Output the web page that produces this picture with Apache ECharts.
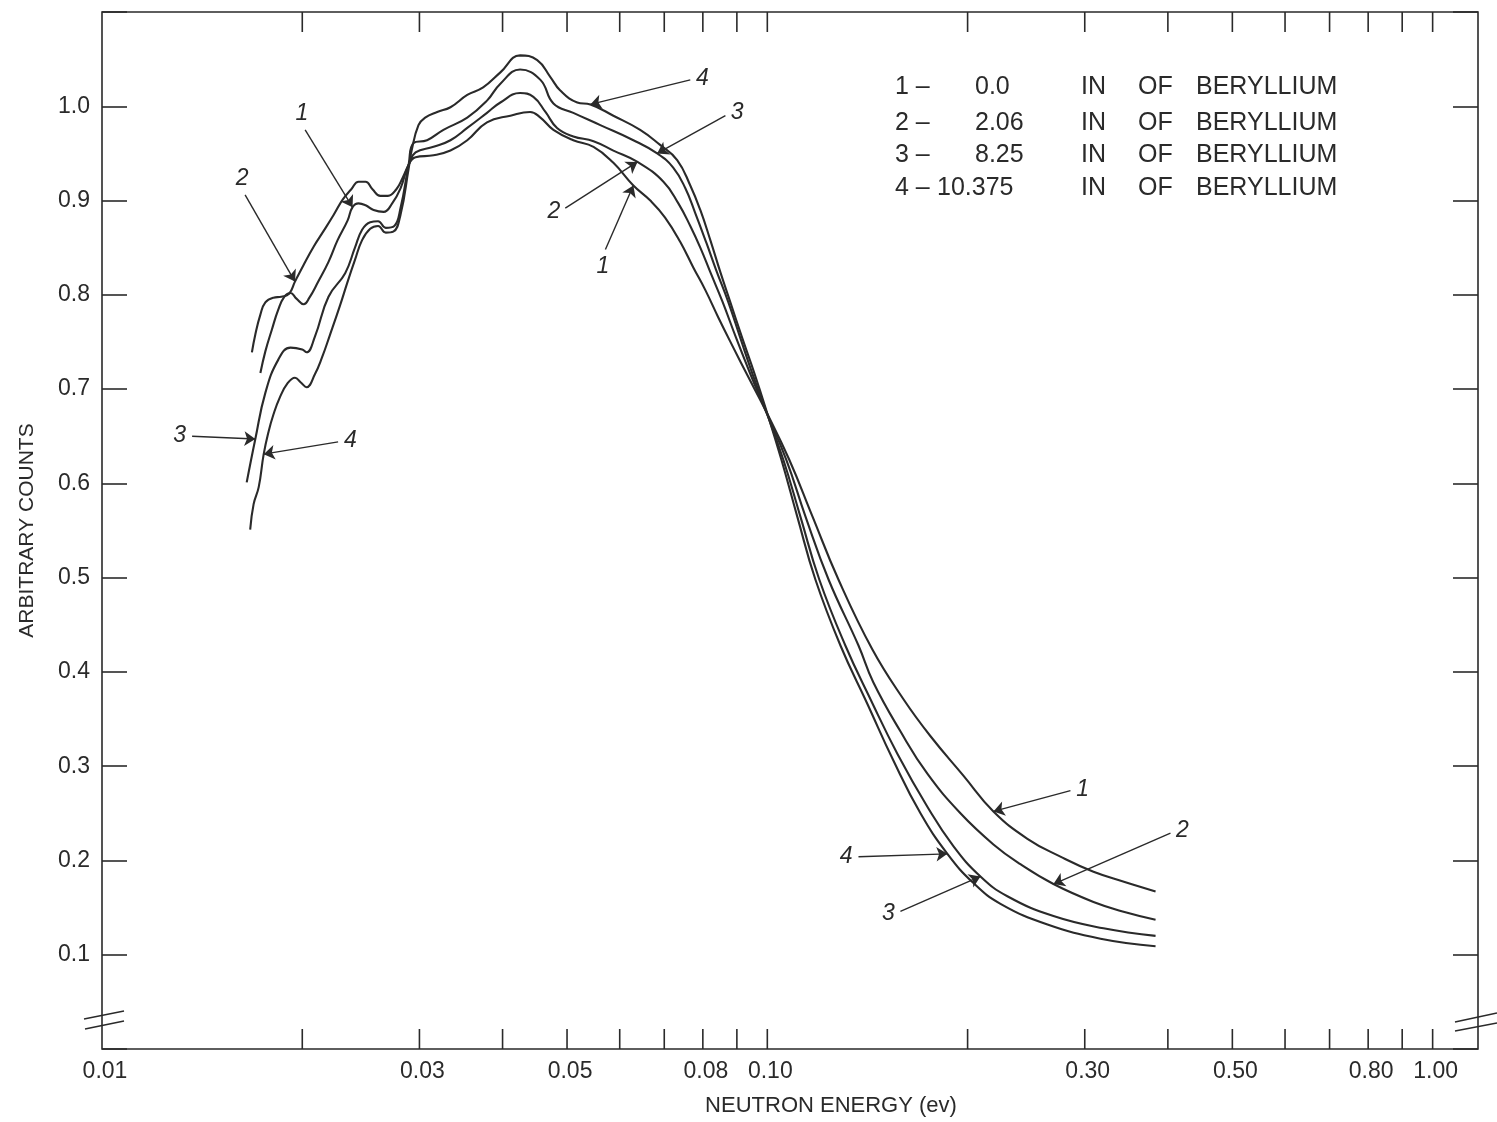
<!DOCTYPE html>
<html>
<head>
<meta charset="utf-8">
<title>Neutron energy spectra through beryllium</title>
<script src="https://cdn.jsdelivr.net/npm/echarts@6/dist/echarts.min.js"></script>
<style>
  html, body { margin: 0; padding: 0; background: #fff; }
  #chart { width: 1497px; height: 1122px; }
</style>
</head>
<body>
<div id="chart"></div>
<script>
// curve 1 - 0.0 in of beryllium
const energy1 = [0.0173, 0.0176, 0.0180, 0.0184, 0.0188, 0.0192, 0.0196, 0.0201, 0.0205, 0.0211,
  0.0219, 0.0226, 0.0234, 0.0238, 0.0243, 0.0249, 0.0256, 0.0265, 0.0273, 0.0281,
  0.0289, 0.0296, 0.0315, 0.0334, 0.0354, 0.0379, 0.0411, 0.0440, 0.0456, 0.0477,
  0.0511, 0.0548, 0.0587, 0.0629, 0.0667, 0.0702, 0.0740, 0.0774, 0.0807, 0.0844,
  0.0889, 0.0936, 0.0993, 0.1079, 0.1169, 0.1279, 0.1438, 0.1602, 0.1758, 0.1971,
  0.2187, 0.2460, 0.2758, 0.3092, 0.3454, 0.3833];
const counts1 = [0.717, 0.740, 0.763, 0.784, 0.798, 0.802, 0.796, 0.790, 0.797, 0.813,
  0.835, 0.858, 0.879, 0.893, 0.897, 0.895, 0.890, 0.888, 0.897, 0.913,
  0.938, 0.946, 0.948, 0.953, 0.964, 0.983, 0.990, 0.994, 0.988, 0.975,
  0.964, 0.957, 0.940, 0.916, 0.900, 0.882, 0.856, 0.829, 0.805, 0.776,
  0.744, 0.713, 0.678, 0.625, 0.565, 0.498, 0.424, 0.371, 0.332, 0.290,
  0.252, 0.223, 0.204, 0.188, 0.177, 0.167];

// curve 2 - 2.06 in
const energy2 = [0.0168, 0.0170, 0.0173, 0.0176, 0.0181, 0.0186, 0.0191, 0.0195, 0.0201, 0.0208,
  0.0215, 0.0223, 0.0230, 0.0237, 0.0243, 0.0249, 0.0255, 0.0262, 0.0269, 0.0277,
  0.0283, 0.0289, 0.0296, 0.0315, 0.0334, 0.0354, 0.0379, 0.0397, 0.0425, 0.0445,
  0.0464, 0.0483, 0.0511, 0.0548, 0.0587, 0.0638, 0.0698, 0.0735, 0.0766, 0.0793,
  0.0821, 0.0856, 0.0898, 0.0943, 0.0993, 0.1068, 0.1141, 0.1236, 0.1371, 0.1443,
  0.1585, 0.1740, 0.1951, 0.2187, 0.2401, 0.2692, 0.3092, 0.3454, 0.3833];
const counts2 = [0.739, 0.758, 0.779, 0.792, 0.797, 0.798, 0.801, 0.814, 0.832, 0.851,
  0.867, 0.885, 0.901, 0.912, 0.920, 0.920, 0.912, 0.905, 0.905, 0.912,
  0.924, 0.938, 0.951, 0.957, 0.964, 0.977, 0.993, 1.004, 1.014, 1.010,
  0.994, 0.977, 0.968, 0.963, 0.953, 0.941, 0.920, 0.897, 0.873, 0.850,
  0.824, 0.793, 0.754, 0.716, 0.678, 0.625, 0.565, 0.498, 0.428, 0.389,
  0.337, 0.292, 0.250, 0.217, 0.196, 0.175, 0.156, 0.145, 0.137];

// curve 3 - 8.25 in
const energy3 = [0.0165, 0.0170, 0.0176, 0.0184, 0.0192, 0.0200, 0.0203, 0.0209, 0.0219, 0.0232,
  0.0240, 0.0246, 0.0253, 0.0260, 0.0267, 0.0275, 0.0281, 0.0289, 0.0294, 0.0308,
  0.0326, 0.0354, 0.0379, 0.0397, 0.0425, 0.0456, 0.0477, 0.0511, 0.0561, 0.0629,
  0.0683, 0.0722, 0.0753, 0.0779, 0.0810, 0.0838, 0.0874, 0.0911, 0.0949, 0.0993,
  0.1057, 0.1121, 0.1197, 0.1310, 0.1429, 0.1569, 0.1740, 0.1905, 0.2091, 0.2295,
  0.2692, 0.3201, 0.3833];
const counts3 = [0.601, 0.647, 0.696, 0.731, 0.744, 0.742, 0.739, 0.756, 0.798, 0.823,
  0.850, 0.869, 0.877, 0.878, 0.871, 0.873, 0.892, 0.938, 0.961, 0.964,
  0.975, 0.988, 1.006, 1.024, 1.039, 1.028, 1.003, 0.993, 0.980, 0.964,
  0.950, 0.935, 0.913, 0.887, 0.855, 0.826, 0.792, 0.754, 0.717, 0.679,
  0.625, 0.565, 0.498, 0.428, 0.371, 0.313, 0.257, 0.215, 0.183, 0.162,
  0.141, 0.128, 0.120];

// curve 4 - 10.375 in
const energy4 = [0.0167, 0.0169, 0.0172, 0.0175, 0.0178, 0.0181, 0.0185, 0.0190, 0.0195, 0.0199,
  0.0203, 0.0209, 0.0214, 0.0220, 0.0228, 0.0234, 0.0240, 0.0246, 0.0253, 0.0260,
  0.0267, 0.0274, 0.0281, 0.0289, 0.0292, 0.0299, 0.0306, 0.0319, 0.0334, 0.0354,
  0.0374, 0.0397, 0.0425, 0.0451, 0.0472, 0.0488, 0.0518, 0.0542, 0.0587, 0.0644,
  0.0690, 0.0732, 0.0766, 0.0793, 0.0821, 0.0850, 0.0880, 0.0917, 0.0956, 0.0993,
  0.1050, 0.1109, 0.1181, 0.1288, 0.1414, 0.1547, 0.1699, 0.1865, 0.2041, 0.2241,
  0.2637, 0.3168, 0.3833];
const counts4 = [0.551, 0.578, 0.596, 0.631, 0.655, 0.673, 0.691, 0.706, 0.712, 0.707,
  0.702, 0.716, 0.733, 0.757, 0.789, 0.814, 0.837, 0.858, 0.870, 0.873,
  0.866, 0.867, 0.885, 0.934, 0.953, 0.980, 0.988, 0.994, 0.999, 1.012,
  1.020, 1.036, 1.054, 1.049, 1.031, 1.017, 1.004, 1.002, 0.990, 0.975,
  0.959, 0.943, 0.916, 0.890, 0.858, 0.824, 0.792, 0.754, 0.717, 0.681,
  0.625, 0.565, 0.498, 0.428, 0.366, 0.306, 0.250, 0.207, 0.176, 0.154,
  0.132, 0.117, 0.109];

const curveNumbers = ['1', '2', '3', '4'];
const thickness = ['0.0', '2.06', '8.25', '10.375'];

// log paper ticks and the printed energy labels
const tickEnergies = [0.02, 0.03, 0.04, 0.05, 0.06, 0.07, 0.08, 0.09, 0.1,
  0.2, 0.3, 0.4, 0.5, 0.6, 0.7, 0.8, 0.9, 1.0];
const labelEnergies = [0.01, 0.03, 0.05, 0.08, 0.10, 0.30, 0.50, 0.80, 1.00];

const ink = '#2a2a2a';
const font = '"Liberation Sans", Arial, sans-serif';

function pairs(xs, ys) {
  return xs.map((x, i) => [x, ys[i]]);
}

// arrow from a label spot to a point of the curve
function arrow(label, from, xs, ys, i) {
  return [
    { coord: from, label: { formatter: label } },
    { coord: [xs[i], ys[i]] }
  ];
}

function curveSeries(idx, xs, ys, arrows) {
  return {
    name: curveNumbers[idx] + ' - ' + thickness[idx] + ' IN OF BERYLLIUM',
    type: 'line',
    data: pairs(xs, ys),
    showSymbol: false,
    smooth: 0.45,
    lineStyle: { color: ink, width: 2.1 },
    itemStyle: { color: ink },
    z: 3,
    markLine: {
      silent: true,
      symbol: ['none', 'arrow'],
      symbolSize: 11,
      lineStyle: { color: ink, width: 1.4, type: 'solid' },
      label: {
        show: true,
        position: 'start',
        distance: 6,
        color: ink,
        fontSize: 23,
        fontStyle: 'italic',
        fontFamily: font
      },
      data: arrows
    }
  };
}

const myChart = echarts.init(document.getElementById('chart'));

const legendText = [];
curveNumbers.forEach((n, i) => {
  const y = [87, 123, 155, 188][i];
  const style = { fill: ink, font: '25px ' + font, verticalAlign: 'middle' };
  legendText.push({ type: 'text', x: 895, y: y, style: Object.assign({ text: n + ' \u2013' }, style) });
  legendText.push({ type: 'text', x: i === 3 ? 937 : 975, y: y, style: Object.assign({ text: thickness[i] }, style) });
  legendText.push({ type: 'text', x: 1081, y: y, style: Object.assign({ text: 'IN' }, style) });
  legendText.push({ type: 'text', x: 1138, y: y, style: Object.assign({ text: 'OF' }, style) });
  legendText.push({ type: 'text', x: 1196, y: y, style: Object.assign({ text: 'BERYLLIUM' }, style) });
});

const breakStyle = { stroke: ink, lineWidth: 1.5 };

const options = {
  backgroundColor: '#ffffff',
  animation: false,
  grid: {
    left: 102,
    right: 19,
    top: 12,
    bottom: 71,
    show: true,
    borderColor: ink,
    borderWidth: 1.6
  },
  xAxis: {
    type: 'log',
    logBase: 10,
    min: 0.01,
    max: 1.17,
    axisLine: { show: false },
    axisTick: { show: false },
    axisLabel: { show: false },
    splitLine: { show: false },
    name: 'NEUTRON ENERGY (ev)',
    nameLocation: 'middle',
    nameGap: 46,
    nameTextStyle: {
      color: ink,
      fontSize: 22,
      fontFamily: font,
      padding: [0, 0, 0, 82]
    }
  },
  yAxis: [
    {
      type: 'value',
      min: 0,
      max: 1.1,
      interval: 0.1,
      axisLine: { show: false },
      axisTick: { show: true, inside: true, length: 25, lineStyle: { color: ink, width: 1.6 } },
      axisLabel: {
        margin: 12,
        color: ink,
        fontSize: 23,
        fontFamily: font,
        formatter: function (v) {
          return (v < 0.05 || v > 1.05) ? '' : v.toFixed(1);
        }
      },
      splitLine: { show: false },
      name: 'ARBITRARY COUNTS',
      nameLocation: 'middle',
      nameGap: 64,
      nameRotate: 90,
      nameTextStyle: { color: ink, fontSize: 21, fontFamily: font }
    },
    {
      type: 'value',
      position: 'right',
      min: 0,
      max: 1.1,
      interval: 0.1,
      axisLine: { show: false },
      axisTick: { show: true, inside: true, length: 25, lineStyle: { color: ink, width: 1.6 } },
      axisLabel: { show: false },
      splitLine: { show: false }
    }
  ],
  graphic: legendText.concat([
    { type: 'line', shape: { x1: 84, y1: 1019, x2: 124, y2: 1011 }, style: breakStyle },
    { type: 'line', shape: { x1: 85, y1: 1029, x2: 124, y2: 1021 }, style: breakStyle },
    { type: 'line', shape: { x1: 1455, y1: 1022, x2: 1497, y2: 1013 }, style: breakStyle },
    { type: 'line', shape: { x1: 1455, y1: 1031, x2: 1497, y2: 1023 }, style: breakStyle }
  ]),
  series: [
    curveSeries(0, energy1, counts1, [
      arrow('1', [0.0202, 0.975], energy1, counts1, 13),
      arrow('1', [0.0571, 0.848], energy1, counts1, 33),
      arrow('1', [0.2855, 0.274], energy1, counts1, 50)
    ]),
    curveSeries(1, energy2, counts2, [
      arrow('2', [0.01641, 0.906], energy2, counts2, 7),
      arrow('2', [0.0497, 0.892], energy2, counts2, 35),
      arrow('2', [0.4036, 0.229], energy2, counts2, 55)
    ]),
    curveSeries(2, energy3, counts3, [
      arrow('3', [0.01366, 0.650], energy3, counts3, 1),
      arrow('3', [0.0865, 0.990], energy3, counts3, 30),
      arrow('3', [0.1585, 0.146], energy3, counts3, 48)
    ]),
    curveSeries(3, energy4, counts4, [
      arrow('4', [0.02264, 0.644], energy4, counts4, 3),
      arrow('4', [0.0766, 1.028], energy4, counts4, 37),
      arrow('4', [0.1371, 0.204], energy4, counts4, 57)
    ]),
    {
      // tick marks of the log paper, top and bottom edges
      type: 'custom',
      silent: true,
      clip: false,
      data: tickEnergies.map(v => [v, 0]),
      encode: { x: 0, y: 1 },
      renderItem: function (params, api) {
        const x = api.coord([api.value(0), 0.5])[0];
        const cs = params.coordSys;
        const style = { stroke: ink, lineWidth: 1.6 };
        return {
          type: 'group',
          children: [
            { type: 'line', shape: { x1: x, y1: cs.y, x2: x, y2: cs.y + 20 }, style: style },
            { type: 'line', shape: { x1: x, y1: cs.y + cs.height, x2: x, y2: cs.y + cs.height - 20 }, style: style }
          ]
        };
      }
    },
    {
      // energy labels under the axis
      type: 'custom',
      silent: true,
      clip: false,
      data: labelEnergies.map(v => [v, 0]),
      encode: { x: 0, y: 1 },
      renderItem: function (params, api) {
        const v = api.value(0);
        const x = api.coord([v, 0.5])[0];
        const cs = params.coordSys;
        return {
          type: 'text',
          x: x + 3,
          y: cs.y + cs.height + 23,
          style: {
            text: v.toFixed(2),
            fill: ink,
            font: '23px ' + font,
            align: 'center',
            verticalAlign: 'middle'
          }
        };
      }
    }
  ]
};

myChart.setOption(options);
</script>
</body>
</html>
